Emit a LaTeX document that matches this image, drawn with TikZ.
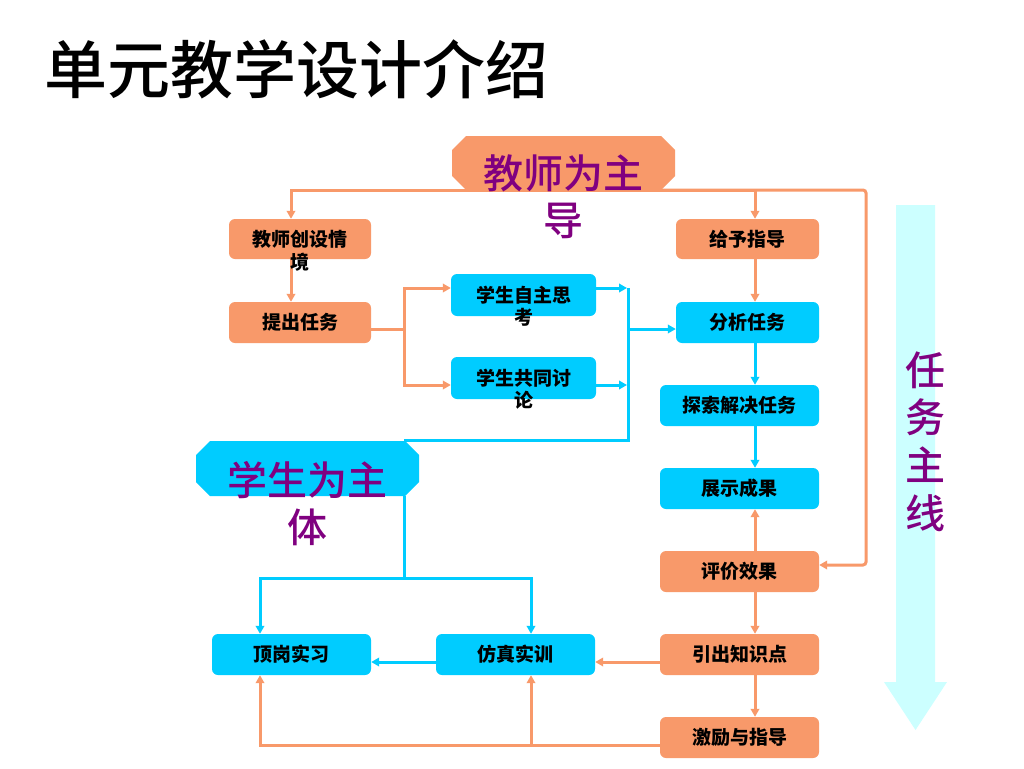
\documentclass[tikz,border=0pt]{standalone}
\usepackage{fontspec}
\setmainfont{Noto Sans CJK SC}
\newfontfamily\medfont{Noto Sans CJK SC Medium}
\usetikzlibrary{arrows.meta}
\definecolor{ob}{HTML}{F8996A}
\definecolor{bb}{HTML}{00CCFF}
\definecolor{pp}{HTML}{800080}
\definecolor{lc}{HTML}{CCFFFF}
\begin{document}
\begin{tikzpicture}[x=1pt,y=-1pt,
  box/.style={rounded corners=6pt, minimum height=41pt, inner sep=0pt, text=black,
    font=\fontsize{19}{22}\selectfont\bfseries},
  obox/.style={box, fill=ob},
  bbox/.style={box, fill=bb},
  boxtxt/.style={font=\fontsize{19}{22}\selectfont\bfseries, inner sep=0pt, anchor=base, text=black},
  bigtxt/.style={font=\medfont\fontsize{40}{47}\selectfont, inner sep=0pt, anchor=base, text=pp},
  oct/.style={minimum width=223pt, minimum height=55pt, inner sep=0pt,
    path picture={\fill[#1] ([xshift=14pt]path picture bounding box.north west)
      -- ([xshift=-14pt]path picture bounding box.north east)
      -- ([yshift=-14pt]path picture bounding box.north east)
      -- ([yshift=14pt]path picture bounding box.south east)
      -- ([xshift=-14pt]path picture bounding box.south east)
      -- ([xshift=14pt]path picture bounding box.south west)
      -- ([yshift=14pt]path picture bounding box.south west)
      -- ([yshift=-14pt]path picture bounding box.north west) -- cycle;}},
  oline/.style={draw=ob, line width=3pt},
  bline/.style={draw=bb, line width=3pt},
  oarrow/.style={oline, -{Triangle[length=8pt,width=8.5pt]}},
  barrow/.style={bline, -{Triangle[length=8pt,width=8.5pt]}}
]
\fill[white] (0,0) rectangle (1024,768);
\useasboundingbox (0,0) rectangle (1024,768);

% title
\node[font=\medfont\fontsize{63}{70}\selectfont, anchor=base west, inner sep=0pt] (title) at (44,93) {单元教学设计介绍};

% big arrow
\fill[lc] (896,205) -- (935,205) -- (935,682) -- (947,682) -- (915.5,730) -- (884,682) -- (896,682) -- cycle;
\node[bigtxt] (zx) at (925,385) {\begin{tabular}[t]{@{}c@{}}任\\务\\主\\线\end{tabular}};

% column / row coordinates
\coordinate (xL) at (291,0);
\coordinate (xS) at (404,0);
\coordinate (xV) at (628,0);
\coordinate (xVa) at (627,0);
\coordinate (xR) at (755,0);
\coordinate (xE) at (866,0);
\coordinate (x260) at (260,0);
\coordinate (x531) at (531,0);
\coordinate (yT) at (0,190);
\coordinate (y288) at (0,288);
\coordinate (y329) at (0,329);
\coordinate (y385) at (0,385);
\coordinate (y565) at (0,565);
\coordinate (y578) at (0,578);
\coordinate (y662) at (0,662);
\coordinate (y745) at (0,745);

% octagons
\node[oct=ob, minimum height=54pt] (jszd) at (563.5,163) {};
\node[oct=bb] (xsxt) at (307.5,468.5) {};

% boxes
\node[obox, minimum width=142pt, minimum height=40pt] (qj) at (300,239) {};
\node[obox, minimum width=142pt] (tc) at (300,322.5) {提出任务};
\node[bbox, minimum width=145pt, minimum height=42pt] (zz) at (523.5,295) {};
\node[bbox, minimum width=145pt, minimum height=42pt] (gt) at (523.5,378) {};
\node[obox, minimum width=143pt, minimum height=40pt] (gy) at (747.5,239) {给予指导};
\node[bbox, minimum width=143pt] (fx) at (747.5,322.5) {分析任务};
\node[bbox, minimum width=159pt] (ts) at (739.5,405.5) {探索解决任务};
\node[bbox, minimum width=159pt] (zs) at (739.5,488.5) {展示成果};
\node[obox, minimum width=159pt] (pj) at (739.5,571.5) {评价效果};
\node[obox, minimum width=159pt] (yc) at (739.5,654.5) {引出知识点};
\node[obox, minimum width=159pt] (jl) at (739.5,737.5) {激励与指导};
\node[bbox, minimum width=159pt] (dg) at (291.5,654.5) {顶岗实习};
\node[bbox, minimum width=159pt] (fz) at (515.5,654.5) {仿真实训};

% connectors
\draw[oarrow] (jszd.south) -| (qj.north -| xL);
\draw[oarrow] (jszd.south) -| (gy.north -| xR);
\draw[oarrow, rounded corners=3pt] (jszd.south) -- (xE |- yT) -- (xE |- y565) -- (pj.east |- y565);
\draw[oarrow] (qj.south -| xL) -- (tc.north -| xL);
\draw[oarrow] (tc.east |- y329) -- (xS |- y329) |- (zz.west |- y288);
\draw[oarrow] (xS |- y329) |- (gt.west |- y385);
\draw[barrow] (zz.east |- y288) -- (xVa |- y288);
\draw[barrow] (gt.east |- y385) -- (xVa |- y385);
\draw[bline] (xV |- y288) -- (xV |- xsxt.north) -- (xsxt.north -| xS);
\draw[barrow] (xV |- y329) -- (fx.west |- y329);
\draw[oarrow] (gy.south -| xR) -- (fx.north -| xR);
\draw[barrow] (fx.south -| xR) -- (ts.north -| xR);
\draw[barrow] (ts.south -| xR) -- (zs.north -| xR);
\draw[oarrow] (pj.north -| xR) -- (zs.south -| xR);
\draw[oarrow] (pj.south -| xR) -- (yc.north -| xR);
\draw[oarrow] (yc.south -| xR) -- (jl.north -| xR);
\draw[oarrow] (yc.west |- y662) -- (fz.east |- y662);
\draw[barrow] (fz.west |- y662) -- (dg.east |- y662);
\draw[bline] (xsxt.south -| xS) -- (xS |- y578);
\draw[barrow] (xS |- y578) -| (dg.north -| x260);
\draw[barrow] (xS |- y578) -| (fz.north -| x531);
\draw[oarrow] (jl.west |- y745) -| (dg.south -| x260);
\draw[oarrow] (x531 |- y745) -- (fz.south -| x531);

% texts of boxes and octagons that overflow
\node[boxtxt] (qjt) at ([yshift=-7pt]qj.center) {\begin{tabular}[t]{@{}c@{}}教师创设情\\境\end{tabular}};
\node[boxtxt] (zzt) at ([yshift=-7pt]zz.center) {\begin{tabular}[t]{@{}c@{}}学生自主思\\考\end{tabular}};
\node[boxtxt] (gtt) at ([yshift=-7pt]gt.center) {\begin{tabular}[t]{@{}c@{}}学生共同讨\\论\end{tabular}};
\node[bigtxt] (jszdt) at (563.5,188) {\begin{tabular}[t]{@{}c@{}}教师为主\\导\end{tabular}};
\node[bigtxt] (xsxtt) at (307.5,495) {\begin{tabular}[t]{@{}c@{}}学生为主\\体\end{tabular}};
\end{tikzpicture}
\end{document}
